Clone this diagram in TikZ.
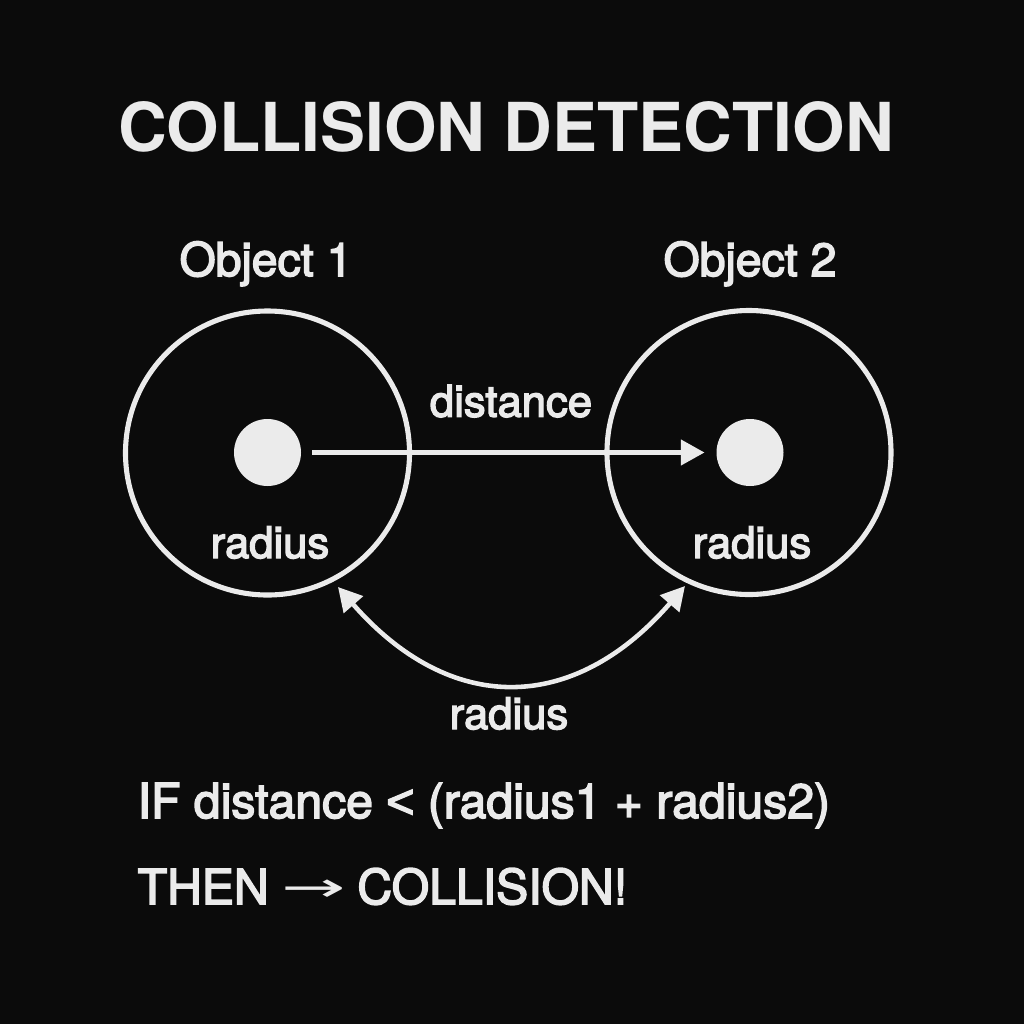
\documentclass[tikz,border=0pt]{standalone}
\usepackage{fontspec}
\setmainfont{TeX Gyre Heros}
\newfontfamily\medfont{TeX Gyre Heros}[FakeBold=3.2]
\newfontfamily\symfont{Liberation Sans}[FakeBold=3.2]
\newfontfamily\arrowfont{DejaVu Sans}
\usetikzlibrary{arrows.meta}
\definecolor{bgc}{HTML}{0B0B0B}
\definecolor{fgc}{HTML}{EBEBEB}
\begin{document}
\begin{tikzpicture}[
  >={Triangle[length=6.7pt,width=7.1pt]},
  ring/.style={circle, draw=fgc, line width=1.45pt, minimum size=2.84cm, inner sep=0pt, outer sep=0pt},
  dot/.style={circle, fill=fgc, minimum size=0.67cm, inner sep=0pt, outer sep=0pt},
  conn/.style={draw=fgc, line width=1.2pt},
  lbl/.style={text=fgc, inner sep=0pt, anchor=base, font=\medfont\fontsize{12.4}{14}\selectfont},
  objlbl/.style={text=fgc, inner sep=0pt, anchor=base, font=\medfont\fontsize{13.2}{16}\selectfont},
  cond/.style={text=fgc, inner sep=0pt, anchor=base west, font=\medfont\fontsize{13.7}{16}\selectfont},
  titlelbl/.style={text=fgc, inner sep=0pt, anchor=base, font=\bfseries\fontsize{19.2}{22}\selectfont}
]
\fill[bgc] (0,0) rectangle (10.24,-10.24);
\useasboundingbox (0,0) rectangle (10.24,-10.24);

\node[titlelbl] (title) at (5.06,-1.51) {COLLISION DETECTION};

\node[objlbl] (o1) at (2.66,-2.76) {Object 1};
\node[objlbl] (o2) at (7.50,-2.76) {Object 2};

\node[ring] (c1) at (2.675,-4.53) {};
\node[ring] (c2) at (7.49,-4.525) {};

\node[dot] (d1) at (2.675,-4.525) {};
\node[dot] (d2) at (7.50,-4.525) {};

\node[lbl] (dist) at (5.11,-4.167) {distance};
\node[lbl] (r1) at (2.70,-5.58) {radius};
\node[lbl] (r2) at (7.52,-5.58) {radius};
\node[lbl] (r3) at (5.09,-7.29) {radius};

\draw[conn, ->, shorten <=0.11cm, shorten >=0.12cm] (d1) -- (d2);

\coordinate (a1) at (3.38,-5.87);
\coordinate (a2) at (6.85,-5.86);
\draw[conn, line width=1.3pt, <->] (a1) .. controls (4.50,-7.15) and (5.73,-7.15) .. (a2);

\node[cond] (if) at (1.37,-8.18) {IF distance {\symfont <} (radius1 + radius2)};
\node[cond] (then) at (1.37,-9.04) {THEN\hspace{0.26em}\raisebox{0.05em}{\scalebox{1.6}[0.85]{\arrowfont →}}\hspace{0.24em}COLLISION!};
\end{tikzpicture}
\end{document}
